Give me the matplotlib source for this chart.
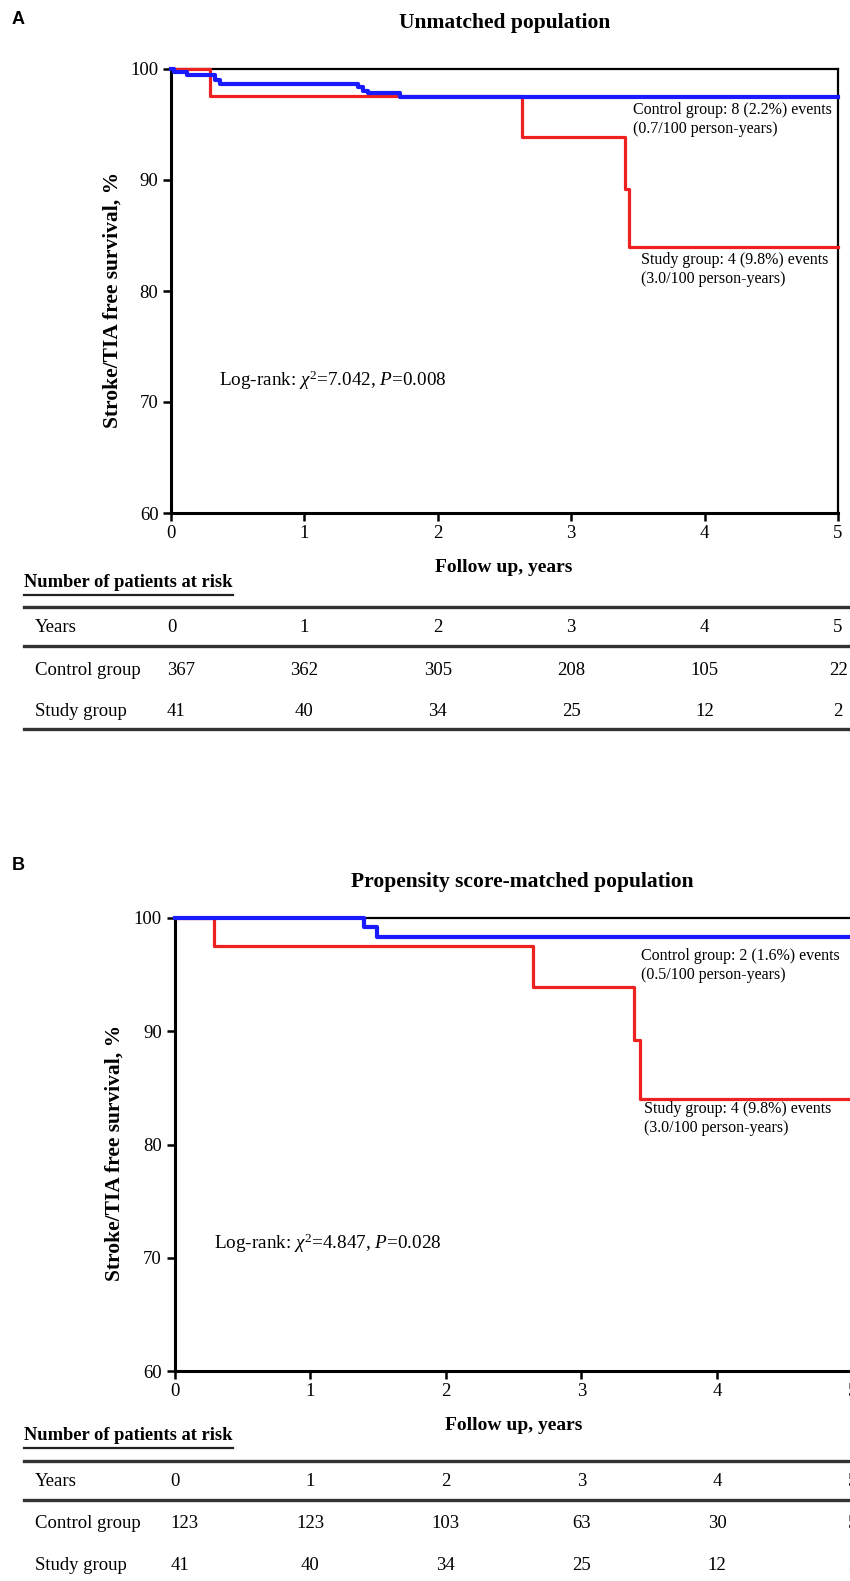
import matplotlib
matplotlib.use("Agg")
import matplotlib.pyplot as plt
from matplotlib.lines import Line2D
from matplotlib.transforms import blended_transform_factory

plt.rcParams['font.family'] = ['Liberation Serif', 'DejaVu Serif']
plt.rcParams['mathtext.fontset'] = 'custom'
plt.rcParams['mathtext.rm'] = 'Liberation Serif'
plt.rcParams['mathtext.it'] = 'Liberation Serif:italic'

# ---- data ----
years = [0, 1, 2, 3, 4, 5]
row_names = ["Years", "Control group", "Study group"]

# panel A, unmatched population
a_control_t = [0, 0.02, 0.12, 0.33, 0.37, 1.40, 1.44, 1.48, 1.72, 5.0]
a_control_s = [100, 99.73, 99.45, 99.0, 98.65, 98.35, 98.05, 97.8, 97.5, 97.5]
a_study_t = [0, 0.29, 2.63, 3.40, 3.43, 5.0]
a_study_s = [100, 97.56, 93.9, 89.2, 84.0, 84.0]
a_control_risk = [367, 362, 305, 208, 105, 22]
a_study_risk = [41, 40, 34, 25, 12, 2]

# panel B, propensity score-matched population
b_control_t = [0, 1.40, 1.49, 5.0]
b_control_s = [100, 99.18, 98.35, 98.35]
b_study_t = [0, 0.29, 2.64, 3.385, 3.43, 5.0]
b_study_s = [100, 97.56, 93.9, 89.2, 84.0, 84.0]
b_control_risk = [123, 123, 103, 63, 30, 5]
b_study_risk = [41, 40, 34, 25, 12, 2]

W, H = 850, 1581
BLUE = '#1a1aff'
RED = '#ee2020'

fig = plt.figure(figsize=(W / 100, H / 100), dpi=100)


def fx(px):
    return px / W


def fy(py):
    return 1 - py / H


def hline(x0, x1, py, lw=2.0, color='#333333'):
    fig.add_artist(Line2D([fx(x0), fx(x1)], [fy(py), fy(py)], color=color, lw=lw,
                          transform=fig.transFigure))


def draw_panel(letter, title, box, title_y, letter_y, ylabel_pos,
               ctl_t, ctl_s, std_t, std_s, ctl_note, std_note, logrank,
               ctl_risk, std_risk, rows_y):
    left, right, top, bottom = box
    ax = fig.add_axes([fx(left), fy(bottom), (right - left) / W, (bottom - top) / H])

    ax.step(std_t, std_s, where='post', color=RED, lw=2.3, zorder=3, clip_on=False)
    ax.step(ctl_t, ctl_s, where='post', color=BLUE, lw=3.0, zorder=4, clip_on=False)

    ax.set_xlim(0, 5)
    ax.set_ylim(60, 100)
    ax.set_xticks(years)
    ax.set_yticks([60, 70, 80, 90, 100])
    ax.tick_params(direction='out', length=6, width=1.8, labelsize=13.5, pad=3)
    for side in ['left', 'bottom']:
        ax.spines[side].set_linewidth(2.2)
    for side in ['top', 'right']:
        ax.spines[side].set_linewidth(1.6)

    fig.text(fx(ylabel_pos[0]), fy(ylabel_pos[1]), "Stroke/TIA free survival, %",
             fontsize=15.5, fontweight='bold', rotation=90, ha='center', va='center')

    # annotations inside the plot
    fig.text(ctl_note[0], ctl_note[1], ctl_note[2], fontsize=11.5, va='top', linespacing=1.25)
    fig.text(std_note[0], std_note[1], std_note[2], fontsize=11.5, va='top', linespacing=1.25)
    fig.text(logrank[0], logrank[1], logrank[2], fontsize=13.8, va='center')

    # panel letter and title
    fig.text(fx(12), fy(letter_y), letter, family='Liberation Sans', fontweight='bold',
             fontsize=13, va='center')
    fig.text(fx(title[1]), fy(title_y), title[0], fontsize=15.5, fontweight='bold',
             ha='center', va='center')

    # axis title and number at risk table
    y_follow, y_nar, y_line1, y_head, y_line2, y_ctl, y_std, y_line3 = rows_y
    fig.text(fx(title[2]), fy(y_follow), "Follow up, years", fontsize=14,
             fontweight='bold', ha='center', va='center')
    fig.text(fx(24), fy(y_nar), "Number of patients at risk", fontsize=13.3,
             fontweight='bold', va='center')
    hline(24, 233, y_nar + 13, lw=1.6, color='#222222')
    hline(24, 850, y_line1, lw=2.4)
    hline(24, 850, y_line2, lw=2.4)
    hline(24, 850, y_line3, lw=2.4)

    tr = blended_transform_factory(ax.transData, fig.transFigure)
    rows = [(row_names[0], [str(y) for y in years], y_head),
            (row_names[1], [str(v) for v in ctl_risk], y_ctl),
            (row_names[2], [str(v) for v in std_risk], y_std)]
    for name, vals, ry in rows:
        fig.text(fx(35), fy(ry), name, fontsize=13.5, va='center')
        for i, v in enumerate(vals):
            if i == 0:
                ax.text(years[i] - 0.03, fy(ry), v, transform=tr, fontsize=13.5,
                        ha='left', va='center', clip_on=False)
            else:
                ax.text(years[i], fy(ry), v, transform=tr, fontsize=13.5,
                        ha='center', va='center', clip_on=False)
    return ax


draw_panel("A", ("Unmatched population", 505, 504), (171, 838, 69, 513), 23, 19, (113, 300),
           a_control_t, a_control_s, a_study_t, a_study_s,
           (fx(633), fy(102), "Control group: 8 (2.2%) events\n(0.7/100 person-years)"),
           (fx(641), fy(252), "Study group: 4 (9.8%) events\n(3.0/100 person-years)"),
           (fx(219), fy(380), r"Log-rank: $\chi^2$=7.042, $P$=0.008"),
           a_control_risk, a_study_risk,
           (568, 582, 607, 628, 646, 670, 711, 729))

draw_panel("B", ("Propensity score-matched population", 522, 514), (174.5, 852.6, 918, 1371), 882, 865,
           (115, 1153),
           b_control_t, b_control_s, b_study_t, b_study_s,
           (fx(641), fy(948), "Control group: 2 (1.6%) events\n(0.5/100 person-years)"),
           (fx(644), fy(1101), "Study group: 4 (9.8%) events\n(3.0/100 person-years)"),
           (fx(214), fy(1243), r"Log-rank: $\chi^2$=4.847, $P$=0.028"),
           b_control_risk, b_study_risk,
           (1425, 1435, 1461, 1482, 1500, 1523, 1565, 1590))

fig.savefig("out.png", dpi=100)
